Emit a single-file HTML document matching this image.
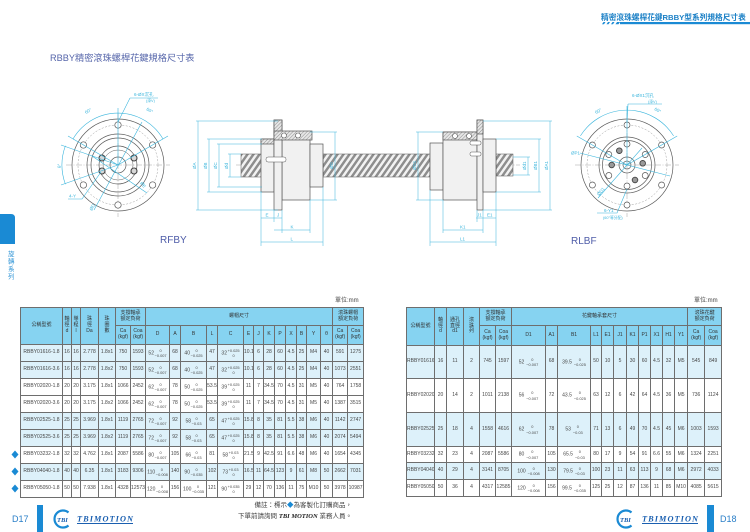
<!DOCTYPE html>
<html><head><meta charset="utf-8">
<style>
*{margin:0;padding:0;box-sizing:border-box}
html,body{width:750px;height:532px;overflow:hidden;background:#fff}
body{position:relative;font-family:"Liberation Sans","Noto Sans CJK TC",sans-serif}
.a{position:absolute;white-space:nowrap}
table{position:absolute;border-collapse:collapse;table-layout:fixed;font-size:5px;color:#474747;font-family:"Liberation Sans","Noto Sans CJK TC",sans-serif}
td,th{border:0.7px solid #6e6e6e;padding:0;text-align:center;vertical-align:middle;overflow:hidden;white-space:nowrap;line-height:1.15;font-weight:normal}
th{background:#86d3f1;color:#333}
tr.b td{background:#ddf1fa}
.tl{display:inline-block;vertical-align:middle;font-size:3.9px;line-height:1.3;text-align:center;margin-left:0.6px}
.tl span{display:block}
</style></head><body>

<svg class="a" style="left:0;top:0" width="750" height="532" viewBox="0 0 750 532" xmlns="http://www.w3.org/2000/svg">
<defs>
<pattern id="thr" width="6" height="30" patternUnits="userSpaceOnUse" patternTransform="skewX(-35)">
<rect width="6" height="30" fill="#f2f2f2"/><rect width="3" height="30" fill="#8e8e8e"/>
</pattern>
<pattern id="hat" width="2.5" height="2.5" patternUnits="userSpaceOnUse" patternTransform="rotate(45)">
<rect width="2.5" height="2.5" fill="#e6e6e6"/><line x1="0" y1="0" x2="0" y2="2.5" stroke="#555" stroke-width="0.6"/>
</pattern>
</defs>

<!-- top right header -->
<text x="601" y="20" font-size="7.7" font-weight="bold" fill="#1b80c6" font-family="Liberation Sans, Noto Sans CJK TC, sans-serif">精密滾珠螺桿花鍵RBBY型系列規格尺寸表</text>
<rect x="620" y="22" width="130" height="2.2" fill="#1a8ad4"/>
<g fill="#1a8ad4"><path d="M602 24.2l1.5-2.2h2l-1.5 2.2z"/><path d="M606.5 24.2l1.5-2.2h2l-1.5 2.2z"/><path d="M611 24.2l1.5-2.2h2l-1.5 2.2z"/><path d="M615.5 24.2l1.5-2.2h3l-1.5 2.2z"/></g>

<!-- left title -->
<text x="50" y="61" font-size="9.2" fill="#5565aa" font-family="Liberation Sans, Noto Sans CJK TC, sans-serif">RBBY精密滾珠螺桿花鍵規格尺寸表</text>

<!-- side tab -->
<path d="M0 214H11Q15 214 15 218V244H0Z" fill="#1a8ad4"/>
<g font-size="6.5" fill="#3a9ad8" font-family="Noto Sans CJK TC, sans-serif">
<text x="8" y="256">旋</text><text x="8" y="263.5">轉</text><text x="8" y="271">系</text><text x="8" y="278.5">列</text>
</g>

<!-- ===== left end view (RFBY) ===== -->
<g fill="none" stroke="#5a5a5a" stroke-width="0.7">
<circle cx="118" cy="165" r="46" fill="#fff"/>
<circle cx="118" cy="165" r="31"/>
<circle cx="118" cy="165" r="27"/>
<circle cx="118" cy="165" r="19"/>
<circle cx="118" cy="165" r="15" stroke-width="0.5"/>
<circle cx="118" cy="165" r="8"/>
</g>
<circle cx="118" cy="165" r="40" fill="none" stroke="#9a9a9a" stroke-width="0.5" stroke-dasharray="2 1.5"/>
<path d="M66 165H170M118 113V217" stroke="#8a8a8a" stroke-width="0.4" stroke-dasharray="6 1.5 1 1.5"/>
<g fill="#fff" stroke="#555" stroke-width="0.7">
<circle cx="118" cy="125" r="3.2"/><circle cx="152.6" cy="145" r="3.2"/><circle cx="152.6" cy="185" r="3.2"/>
<circle cx="118" cy="205" r="3.2"/><circle cx="83.4" cy="185" r="3.2"/><circle cx="83.4" cy="145" r="3.2"/>
</g>
<g fill="#d8d8d8" stroke="#444" stroke-width="1.1">
<circle cx="102" cy="158" r="3"/><circle cx="134" cy="158" r="3"/><circle cx="102" cy="171" r="3"/><circle cx="134" cy="171" r="3"/>
</g>
<g stroke="#3ab5dc" stroke-width="0.6" fill="none">
<path d="M73 139A52 52 0 0 1 163 139"/>
<path d="M118 165L68 136M118 165L168 136M118 165V108"/>
<path d="M65.4 145.8A56 56 0 0 0 65.4 184.2"/>
<path d="M118 165L61 145M118 165L61 185"/>
<path d="M142 122L94 210"/>
<path d="M92 156L147 193"/>
<path d="M68 199H82L101 172"/>
<path d="M130 98H158M130 98L118 122"/>
</g>
<g fill="#3ab5dc" font-size="4.5" font-family="Liberation Sans, Noto Sans CJK TC, sans-serif">
<text x="86" y="114" transform="rotate(-30 86 114)">60°</text>
<text x="146" y="110" transform="rotate(30 146 110)">60°</text>
<text x="61" y="168" transform="rotate(-90 61 168)">θ°</text>
<text x="92" y="211" transform="rotate(-62 92 211)">ØD</text>
<text x="140" y="183" transform="rotate(55 140 183)">ØE</text>
<text x="69" y="197.5">4-Y</text>
<text x="134" y="96">6-ØX沉孔</text>
<text x="146" y="102" font-size="3.8">(深V)</text>
</g>
<text x="160" y="243" font-size="10" fill="#4e5ca8" font-family="Liberation Sans, sans-serif">RFBY</text>

<!-- ===== middle side views ===== -->
<path d="M236 165H520" stroke="#8a8a8a" stroke-width="0.4" stroke-dasharray="6 1.5 1 1.5"/>
<rect x="241" y="154" width="21" height="23" fill="url(#thr)" stroke="#555" stroke-width="0.5"/>
<rect x="323" y="154" width="107" height="23" fill="url(#thr)" stroke="#555" stroke-width="0.5"/>
<rect x="496" y="154" width="17" height="22" fill="url(#thr)" stroke="#555" stroke-width="0.5"/>

<g stroke="#555" stroke-width="0.7">
<!-- RFBY nut -->
<rect x="261" y="139" width="13" height="53" fill="#f1f1f1"/>
<rect x="261" y="139" width="13" height="5" fill="url(#hat)"/>
<rect x="282" y="139" width="28" height="61" fill="#f1f1f1"/>
<rect x="274" y="120" width="8" height="90" fill="#f1f1f1"/>
<rect x="274" y="120" width="8" height="15" fill="url(#hat)"/>
<rect x="274" y="131" width="38" height="9" fill="url(#hat)"/>
<rect x="310" y="144" width="13" height="43" fill="#f1f1f1"/>
<rect x="266" y="157" width="20" height="5" rx="2" fill="#fff" stroke-width="0.5"/>
<!-- RLBF nut -->
<rect x="430" y="143" width="13" height="47" fill="#f1f1f1"/>
<rect x="443" y="132" width="34" height="68" fill="#f1f1f1"/>
<rect x="443" y="132" width="34" height="8" fill="url(#hat)"/>
<rect x="477" y="120" width="6" height="90" fill="#f1f1f1"/>
<rect x="477" y="120" width="6" height="14" fill="url(#hat)"/>
<rect x="483" y="139" width="13" height="53" fill="#f1f1f1"/>
<rect x="470" y="141" width="11" height="4" rx="1.5" fill="#fff" stroke-width="0.5"/>
<rect x="470" y="152" width="11" height="4" rx="1.5" fill="#fff" stroke-width="0.5"/>
</g>
<g fill="#fff" stroke="#555" stroke-width="0.6">
<circle cx="284" cy="135.5" r="2.5"/><circle cx="298" cy="135.5" r="2.5"/>
<circle cx="455" cy="136" r="2.5"/><circle cx="469" cy="136" r="2.5"/>
</g>

<!-- dimension lines -->
<g stroke="#3ab5dc" stroke-width="0.5" fill="none">
<path d="M198 121V210M196 121H278M196 210H278"/>
<path d="M209 139V192M207 139H262M207 192H262"/>
<path d="M219 144V187M217 144H262M217 187H262"/>
<path d="M230 154V177M228 154H241M228 177H241"/>
<path d="M335 132V200M310 132H337M310 200H337"/>
<path d="M418 132V200M416 132H443M416 200H443"/>
<path d="M550 121V210M483 121H552M483 210H552"/>
<path d="M539 139V192M496 139H541M496 192H541"/>
<path d="M528 157V175M513 157H530M513 175H530"/>
<path d="M261 192V246M274 210V222M282 210V233M310 200V233M323 187V246"/>
<path d="M261 218H282M274 230H310M261 242H323"/>
<path d="M430 190V246M443 200V233M477 210V222M483 210V233M496 192V246"/>
<path d="M476 218H496M443 230H483M430 242H496"/>
</g>
<g fill="#3ab5dc" font-size="4.5" font-family="Liberation Sans, sans-serif">
<text x="196" y="169" transform="rotate(-90 196 169)">ØA</text>
<text x="207" y="169" transform="rotate(-90 207 169)">ØB</text>
<text x="217" y="169" transform="rotate(-90 217 169)">ØC</text>
<text x="228" y="169" transform="rotate(-90 228 169)">Ød</text>
<text x="333" y="169" transform="rotate(-90 333 169)">ØD</text>
<text x="416" y="170" transform="rotate(-90 416 170)">ØD1</text>
<text x="548" y="170" transform="rotate(-90 548 170)">ØA1</text>
<text x="537" y="170" transform="rotate(-90 537 170)">ØB1</text>
<text x="526" y="170" transform="rotate(-90 526 170)">Ød1</text>
<text x="265.5" y="216.5">E</text><text x="277" y="216.5">J</text>
<text x="290.5" y="228.5">K</text><text x="290.5" y="240.5">L</text>
<text x="477" y="216.5">J1</text><text x="487" y="216.5">E1</text>
<text x="460" y="228.5">K1</text><text x="460" y="240.5">L1</text>
</g>

<!-- ===== right end view (RLBF) ===== -->
<g fill="none" stroke="#5a5a5a" stroke-width="0.7">
<circle cx="627" cy="165" r="46" fill="#fff"/>
<circle cx="627" cy="165" r="28"/>
<circle cx="627" cy="165" r="24.5"/>
<circle cx="627" cy="165" r="8"/>
<circle cx="627" cy="165" r="4"/>
</g>
<circle cx="627" cy="165" r="40" fill="none" stroke="#9a9a9a" stroke-width="0.5" stroke-dasharray="2 1.5"/>
<path d="M575 165H679M627 113V217" stroke="#8a8a8a" stroke-width="0.4" stroke-dasharray="6 1.5 1 1.5"/>
<g fill="#fff" stroke="#555" stroke-width="0.7">
<circle cx="627" cy="125" r="3"/><circle cx="661.6" cy="145" r="3"/><circle cx="661.6" cy="185" r="3"/>
<circle cx="627" cy="205" r="3"/><circle cx="592.4" cy="185" r="3"/><circle cx="592.4" cy="145" r="3"/>
<circle cx="627" cy="144" r="3"/><circle cx="645.2" cy="154.5" r="3"/><circle cx="645.2" cy="175.5" r="3"/>
<circle cx="627" cy="186" r="3"/><circle cx="608.8" cy="175.5" r="3"/><circle cx="608.8" cy="154.5" r="3"/>
</g>
<g fill="#9a9a9a" stroke="#444" stroke-width="0.9">
<circle cx="619.3" cy="150.7" r="2.8"/><circle cx="642.7" cy="163.3" r="2.8"/><circle cx="611.7" cy="165" r="2.8"/><circle cx="635" cy="180" r="2.8"/>
</g>
<g stroke="#3ab5dc" stroke-width="0.6" fill="none">
<path d="M580.4 135.9A55 55 0 0 1 673.6 135.9"/>
<path d="M627 165L576.8 136M627 165L677.2 136M627 165V106"/>
<path d="M628 104H662M628 104L627 122"/>
<path d="M580 153L670 176"/>
<path d="M598 198L642 148"/>
<path d="M597 213H617L627 189"/>
</g>
<g fill="#3ab5dc" font-size="4.5" font-family="Liberation Sans, Noto Sans CJK TC, sans-serif">
<text x="596" y="114" transform="rotate(-28 596 114)">60°</text>
<text x="654" y="110" transform="rotate(28 654 110)">60°</text>
<text x="632" y="97">6-ØX1沉孔</text>
<text x="648" y="103" font-size="3.8">(深V)</text>
<text x="571" y="154.5">ØP1</text>
<text x="599" y="196" transform="rotate(-50 599 196)">ØD1</text>
<text x="604" y="212">6-Y1</text>
<text x="603" y="219" font-size="3.8">(60°等分配)</text>
</g>
<text x="571" y="244" font-size="10" fill="#4e5ca8" font-family="Liberation Sans, sans-serif">RLBF</text>

<!-- units -->
<text x="335" y="302" font-size="6" fill="#444" font-family="Liberation Sans, Noto Sans CJK TC, sans-serif">單位:mm</text>
<text x="694" y="302" font-size="6" fill="#444" font-family="Liberation Sans, Noto Sans CJK TC, sans-serif">單位:mm</text>

<!-- diamonds -->
<g fill="#1a8ad4">
<path d="M15 450.5l3.5 4-3.5 4-3.5-4z"/>
<path d="M15 467.5l3.5 4-3.5 4-3.5-4z"/>
<path d="M15 484.5l3.5 4-3.5 4-3.5-4z"/>
</g>

<!-- notes -->
<g font-size="6.5" fill="#444" font-family="Liberation Sans, Noto Sans CJK TC, sans-serif" text-anchor="end">
<text x="352" y="507">備註：標示<tspan fill="#1a8ad4">◆</tspan>為客製化訂購商品，</text>
<text x="352" y="518">下單前請詢問 <tspan font-family="Liberation Serif, serif" font-weight="bold" font-style="italic" fill="#222">TBI MOTION</tspan> 業務人員。</text>
</g>

<!-- footer left -->
<text x="12" y="522" font-size="9" fill="#2a7fc8" font-family="Liberation Sans, sans-serif">D17</text>
<rect x="37" y="505" width="6" height="27" fill="#1a8ad4"/>
<path d="M68.5 512.5A8.5 8.5 0 1 0 68.5 525.5" fill="none" stroke="#1a8ad4" stroke-width="2.2"/>
<text x="57" y="522" font-size="6.5" font-weight="bold" font-style="italic" fill="#1a5fb0" font-family="Liberation Serif, serif">TBI</text>
<text x="77" y="521.5" font-size="8.3" font-weight="bold" font-style="italic" fill="#1a5fb0" font-family="Liberation Serif, serif" textLength="56">TBIMOTION</text>
<rect x="77" y="523" width="56" height="1" fill="#1a5fb0"/>

<!-- footer right -->
<path d="M631.5 512.5A8.5 8.5 0 1 0 631.5 525.5" fill="none" stroke="#1a8ad4" stroke-width="2.2"/>
<text x="620" y="522" font-size="6.5" font-weight="bold" font-style="italic" fill="#1a5fb0" font-family="Liberation Serif, serif">TBI</text>
<text x="642" y="521.5" font-size="8.3" font-weight="bold" font-style="italic" fill="#1a5fb0" font-family="Liberation Serif, serif" textLength="56">TBIMOTION</text>
<rect x="642" y="523" width="56" height="1" fill="#1a5fb0"/>
<rect x="707" y="505" width="7" height="27" fill="#1a8ad4"/>
<text x="720" y="522" font-size="9" fill="#2a7fc8" font-family="Liberation Sans, sans-serif">D18</text>
</svg>

<!-- ===== LEFT TABLE ===== -->
<table style="left:20px;top:307px;width:343px">
<colgroup>
<col style="width:42px"><col style="width:9px"><col style="width:9px"><col style="width:18px"><col style="width:17px"><col style="width:15px"><col style="width:15px"><col style="width:24px"><col style="width:11px"><col style="width:26px"><col style="width:11px"><col style="width:26px"><col style="width:10px"><col style="width:10px"><col style="width:11px"><col style="width:11px"><col style="width:11px"><col style="width:10px"><col style="width:14px"><col style="width:12px"><col style="width:15px"><col style="width:16px">
</colgroup>
<tr style="height:18px">
<th rowspan="2">公稱型號</th><th rowspan="2">軸<br>徑<br>d</th><th rowspan="2">導<br>程<br>l</th><th rowspan="2">珠<br>徑<br>Da</th><th rowspan="2">珠<br>圈<br>數</th>
<th colspan="2">支撐軸承<br>額定負荷</th><th colspan="13">螺帽尺寸</th><th colspan="2">滾珠螺帽<br>額定負荷</th>
</tr>
<tr style="height:19px">
<th>Ca<br>(kgf)</th><th>Coa<br>(kgf)</th><th>D</th><th>A</th><th>B</th><th>L</th><th>C</th><th>E</th><th>J</th><th>K</th><th>P</th><th>X</th><th>B</th><th>Y</th><th>θ</th><th>Ca<br>(kgf)</th><th>Coa<br>(kgf)</th>
</tr>
<tr class="b" style="height:17px"><td>RBBY01616-1.8</td><td>16</td><td>16</td><td>2.778</td><td>1.8x1</td><td>750</td><td>1593</td><td>52<span class="tl"><span>0</span><span>−0.007</span></span></td><td>68</td><td>40<span class="tl"><span>0</span><span>−0.025</span></span></td><td>47</td><td>32<span class="tl"><span>+0.025</span><span>0</span></span></td><td>10.1</td><td>6</td><td>28</td><td>60</td><td>4.5</td><td>25</td><td>M4</td><td>40</td><td>591</td><td>1275</td></tr>
<tr class="b" style="height:17px"><td>RBBY01616-3.6</td><td>16</td><td>16</td><td>2.778</td><td>1.8x2</td><td>750</td><td>1593</td><td>52<span class="tl"><span>0</span><span>−0.007</span></span></td><td>68</td><td>40<span class="tl"><span>0</span><span>−0.025</span></span></td><td>47</td><td>32<span class="tl"><span>+0.025</span><span>0</span></span></td><td>10.1</td><td>6</td><td>28</td><td>60</td><td>4.5</td><td>25</td><td>M4</td><td>40</td><td>1073</td><td>2551</td></tr>
<tr style="height:17px"><td>RBBY02020-1.8</td><td>20</td><td>20</td><td>3.175</td><td>1.8x1</td><td>1066</td><td>2452</td><td>62<span class="tl"><span>0</span><span>−0.007</span></span></td><td>78</td><td>50<span class="tl"><span>0</span><span>−0.025</span></span></td><td>53.5</td><td>39<span class="tl"><span>+0.025</span><span>0</span></span></td><td>11</td><td>7</td><td>34.5</td><td>70</td><td>4.5</td><td>31</td><td>M5</td><td>40</td><td>764</td><td>1758</td></tr>
<tr style="height:17px"><td>RBBY02020-3.6</td><td>20</td><td>20</td><td>3.175</td><td>1.8x2</td><td>1066</td><td>2452</td><td>62<span class="tl"><span>0</span><span>−0.007</span></span></td><td>78</td><td>50<span class="tl"><span>0</span><span>−0.025</span></span></td><td>53.5</td><td>39<span class="tl"><span>+0.025</span><span>0</span></span></td><td>11</td><td>7</td><td>34.5</td><td>70</td><td>4.5</td><td>31</td><td>M5</td><td>40</td><td>1387</td><td>3515</td></tr>
<tr class="b" style="height:17px"><td>RBBY02525-1.8</td><td>25</td><td>25</td><td>3.969</td><td>1.8x1</td><td>1119</td><td>2765</td><td>72<span class="tl"><span>0</span><span>−0.007</span></span></td><td>92</td><td>58<span class="tl"><span>0</span><span>−0.03</span></span></td><td>65</td><td>47<span class="tl"><span>+0.025</span><span>0</span></span></td><td>15.8</td><td>8</td><td>35</td><td>81</td><td>5.5</td><td>38</td><td>M6</td><td>40</td><td>1142</td><td>2747</td></tr>
<tr class="b" style="height:17px"><td>RBBY02525-3.6</td><td>25</td><td>25</td><td>3.969</td><td>1.8x2</td><td>1119</td><td>2765</td><td>72<span class="tl"><span>0</span><span>−0.007</span></span></td><td>92</td><td>58<span class="tl"><span>0</span><span>−0.03</span></span></td><td>65</td><td>47<span class="tl"><span>+0.025</span><span>0</span></span></td><td>15.8</td><td>8</td><td>35</td><td>81</td><td>5.5</td><td>38</td><td>M6</td><td>40</td><td>2074</td><td>5494</td></tr>
<tr style="height:17px"><td>RBBY03232-1.8</td><td>32</td><td>32</td><td>4.762</td><td>1.8x1</td><td>2087</td><td>5586</td><td>80<span class="tl"><span>0</span><span>−0.007</span></span></td><td>105</td><td>66<span class="tl"><span>0</span><span>−0.03</span></span></td><td>81</td><td>58<span class="tl"><span>+0.03</span><span>0</span></span></td><td>21.5</td><td>9</td><td>42.5</td><td>91</td><td>6.6</td><td>48</td><td>M6</td><td>40</td><td>1654</td><td>4345</td></tr>
<tr class="b" style="height:17px"><td>RBBY04040-1.8</td><td>40</td><td>40</td><td>6.35</td><td>1.8x1</td><td>3183</td><td>9306</td><td>110<span class="tl"><span>0</span><span>−0.008</span></span></td><td>140</td><td>90<span class="tl"><span>0</span><span>−0.035</span></span></td><td>102</td><td>73<span class="tl"><span>+0.03</span><span>0</span></span></td><td>16.5</td><td>11</td><td>64.5</td><td>123</td><td>9</td><td>61</td><td>M8</td><td>50</td><td>2662</td><td>7031</td></tr>
<tr style="height:17px"><td>RBBY05050-1.8</td><td>50</td><td>50</td><td>7.938</td><td>1.8x1</td><td>4328</td><td>12573</td><td>120<span class="tl"><span>0</span><span>−0.008</span></span></td><td>156</td><td>100<span class="tl"><span>0</span><span>−0.035</span></span></td><td>121</td><td>90<span class="tl"><span>+0.035</span><span>0</span></span></td><td>29</td><td>12</td><td>70</td><td>136</td><td>11</td><td>75</td><td>M10</td><td>50</td><td>3978</td><td>10987</td></tr>
</table>

<!-- ===== RIGHT TABLE ===== -->
<table style="left:406px;top:307px;width:315px">
<colgroup>
<col style="width:28px"><col style="width:12px"><col style="width:17px"><col style="width:16px"><col style="width:16px"><col style="width:16px"><col style="width:34px"><col style="width:12px"><col style="width:33px"><col style="width:11px"><col style="width:12px"><col style="width:13px"><col style="width:12px"><col style="width:12px"><col style="width:12px"><col style="width:12px"><col style="width:13px"><col style="width:17px"><col style="width:17px">
</colgroup>
<tr style="height:18px">
<th rowspan="2">公稱型號</th><th rowspan="2">軸<br>徑<br>d</th><th rowspan="2">通孔<br>直徑<br>d1</th><th rowspan="2">滾<br>珠<br>列</th>
<th colspan="2">支撐軸承<br>額定負荷</th><th colspan="11">花鍵軸承套尺寸</th><th colspan="2">滾珠花鍵<br>額定負荷</th>
</tr>
<tr style="height:20px">
<th>Ca<br>(kgf)</th><th>Coa<br>(kgf)</th><th>D1</th><th>A1</th><th>B1</th><th>L1</th><th>E1</th><th>J1</th><th>K1</th><th>P1</th><th>X1</th><th>H1</th><th>Y1</th><th>Ca<br>(kgf)</th><th>Coa<br>(kgf)</th>
</tr>
<tr class="b" style="height:33px"><td>RBBY01616</td><td>16</td><td>11</td><td>2</td><td>745</td><td>1597</td><td>52 <span class="tl"><span>0</span><span>−0.007</span></span></td><td>68</td><td>39.5 <span class="tl"><span>0</span><span>−0.025</span></span></td><td>50</td><td>10</td><td>5</td><td>30</td><td>60</td><td>4.5</td><td>32</td><td>M5</td><td>545</td><td>849</td></tr>
<tr style="height:34px"><td>RBBY02020</td><td>20</td><td>14</td><td>2</td><td>1011</td><td>2138</td><td>56 <span class="tl"><span>0</span><span>−0.007</span></span></td><td>72</td><td>43.5 <span class="tl"><span>0</span><span>−0.025</span></span></td><td>63</td><td>12</td><td>6</td><td>42</td><td>64</td><td>4.5</td><td>36</td><td>M5</td><td>736</td><td>1124</td></tr>
<tr class="b" style="height:34px"><td>RBBY02525</td><td>25</td><td>18</td><td>4</td><td>1558</td><td>4616</td><td>62 <span class="tl"><span>0</span><span>−0.007</span></span></td><td>78</td><td>53 <span class="tl"><span>0</span><span>−0.03</span></span></td><td>71</td><td>13</td><td>6</td><td>49</td><td>70</td><td>4.5</td><td>45</td><td>M6</td><td>1003</td><td>1593</td></tr>
<tr style="height:16px"><td>RBBY03232</td><td>32</td><td>23</td><td>4</td><td>2087</td><td>5586</td><td>80 <span class="tl"><span>0</span><span>−0.007</span></span></td><td>105</td><td>65.5 <span class="tl"><span>0</span><span>−0.03</span></span></td><td>80</td><td>17</td><td>9</td><td>54</td><td>91</td><td>6.6</td><td>55</td><td>M6</td><td>1324</td><td>2251</td></tr>
<tr class="b" style="height:17px"><td>RBBY04040</td><td>40</td><td>29</td><td>4</td><td>3141</td><td>8705</td><td>100 <span class="tl"><span>0</span><span>−0.008</span></span></td><td>130</td><td>79.5 <span class="tl"><span>0</span><span>−0.03</span></span></td><td>100</td><td>23</td><td>11</td><td>63</td><td>113</td><td>9</td><td>68</td><td>M6</td><td>2972</td><td>4033</td></tr>
<tr style="height:17px"><td>RBBY05050</td><td>50</td><td>36</td><td>4</td><td>4317</td><td>12585</td><td>120 <span class="tl"><span>0</span><span>−0.008</span></span></td><td>156</td><td>99.5 <span class="tl"><span>0</span><span>−0.035</span></span></td><td>125</td><td>25</td><td>12</td><td>87</td><td>136</td><td>11</td><td>85</td><td>M10</td><td>4085</td><td>5615</td></tr>
</table>

</body></html>
